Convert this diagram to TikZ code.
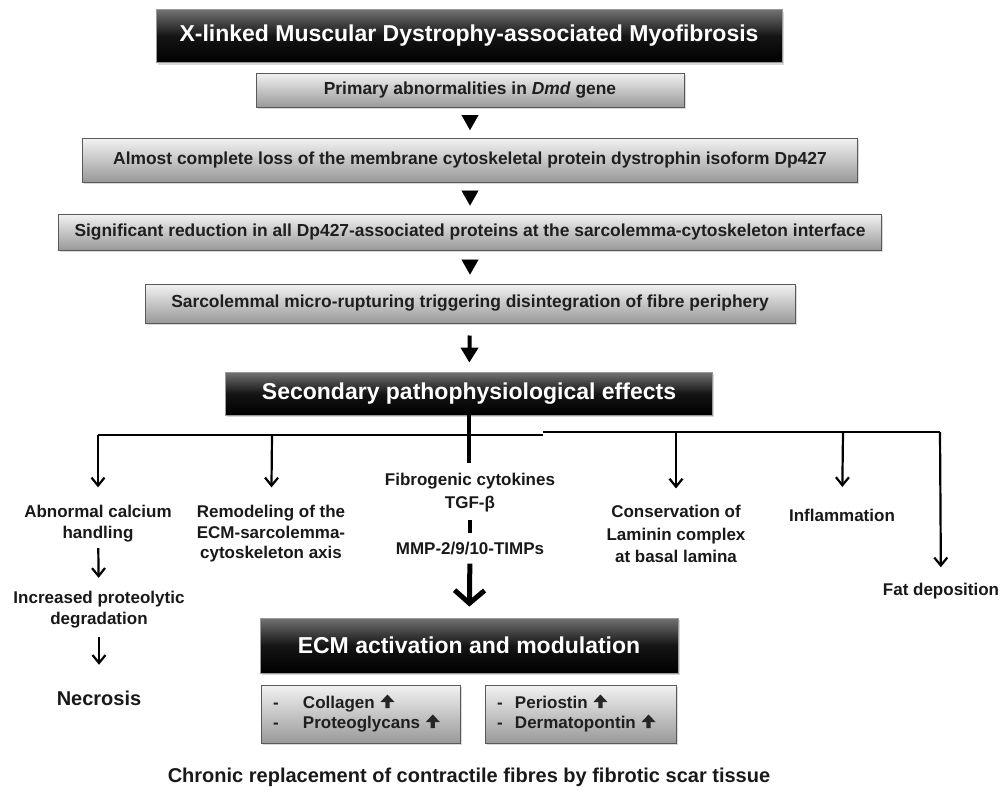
\documentclass[tikz,border=0pt]{standalone}
\usepackage{fontspec}
\setmainfont{Liberation Sans}
\usetikzlibrary{arrows.meta,shadows}
\newcommand\upic{\tikz[x=1pt,y=1pt,baseline=0pt]{\fill[black!85] (-2.1,0) rectangle (2.1,7) (-7,6) -- (0,13.5) -- (7,6) -- cycle;}}
\begin{document}
\begin{tikzpicture}[x=1pt,y=-1pt,
  graybox/.style={draw=black!65, line width=1pt, top color=black!5, bottom color=black!40,
    text=black!88, font=\bfseries\fontsize{17.4}{20}\selectfont, inner sep=0pt,
    drop shadow={opacity=0.3, shadow xshift=1.5pt, shadow yshift=-2pt}},
  blackbox/.style={draw=black!40, line width=0.8pt, top color=black!55, bottom color=black, middle color=black!92,
    text=white, font=\bfseries\fontsize{23}{26}\selectfont, inner sep=0pt,
    drop shadow={opacity=0.3, shadow xshift=1.5pt, shadow yshift=-2pt}},
  lbl/.style={font=\bfseries\fontsize{17}{21}\selectfont, align=center, text=black!90, inner sep=0pt},
  tri/.style={line width=0.01pt, -{Triangle[length=15pt,width=17pt]}},
  thickarr/.style={line width=4pt, -{Triangle[length=15pt,width=17pt]}},
  thinarr/.style={line width=2.2pt, -{Straight Barb[length=8pt,width=13pt]}},
  bus/.style={line width=2.4pt},
  bigarr/.style={line width=5pt, -{Straight Barb[length=13pt,width=30pt]}}
]
\fill[white] (0,0) rectangle (1006,790);
\useasboundingbox (0,0) rectangle (1006,790);

\node[blackbox, minimum width=626pt, minimum height=53pt] (title) at (469,36) {X-linked Muscular Dystrophy-associated Myofibrosis};
\node[graybox, minimum width=428pt, minimum height=34pt] (b1) at (470,90) {Primary abnormalities in \textit{Dmd} gene};
\node[graybox, minimum width=775pt, minimum height=44pt] (b2) at (470,160) {Almost complete loss of the membrane cytoskeletal protein dystrophin isoform Dp427};
\node[graybox, minimum width=823pt, minimum height=36pt] (b3) at (470,232) {Significant reduction in all Dp427-associated proteins at the sarcolemma-cytoskeleton interface};
\node[graybox, minimum width=650pt, minimum height=39pt] (b4) at (470,303.5) {Sarcolemmal micro-rupturing triggering disintegration of fibre periphery};
\node[blackbox, minimum width=487pt, minimum height=43pt] (sec) at (469,393.5) {Secondary pathophysiological effects};

\draw[tri, shorten <=7.5pt, shorten >=7.5pt] (b1) -- (b2);
\draw[tri, shorten <=8pt, shorten >=8pt] (b2) -- (b3);
\draw[tri, shorten <=8.5pt, shorten >=9pt] (b3) -- (b4);
\draw[thickarr, shorten <=12pt, shorten >=9pt] (b4) -- (sec);

\coordinate (cend) at (469,463);
\draw[line width=4.5pt] (sec.south) -- (cend);
\coordinate (busL) at (98,435);
\coordinate (busA) at (272,435);
\coordinate (busM) at (543,435);
\coordinate (busM2) at (543,432);
\coordinate (busC) at (676,432);
\coordinate (busD) at (843,432);
\coordinate (busR) at (940,432);
\draw[bus] (busL) -- (busM);
\draw[bus] (busM2) -- (busR);

\node[lbl] (calc) at (98,524) {Abnormal calcium\\handling};
\node[lbl] (prot) at (99,610) {Increased proteolytic\\degradation};
\node[lbl, font=\bfseries\fontsize{20}{24}\selectfont] (necr) at (99,698) {Necrosis};
\node[lbl, font=\bfseries\fontsize{17}{20.5}\selectfont] (remod) at (271,534) {Remodeling of the\\ECM-sarcolemma-\\cytoskeleton axis};
\node[lbl, font=\bfseries\fontsize{17}{23}\selectfont] (fib) at (470,493) {Fibrogenic cytokines\\TGF-β};
\node[lbl] (mmp) at (470,549) {MMP-2/9/10-TIMPs};
\node[lbl, font=\bfseries\fontsize{17}{22.5}\selectfont] (cons) at (676,534) {Conservation of\\Laminin complex\\at basal lamina};
\node[lbl] (infl) at (842,515) {Inflammation};
\node[lbl] (fat) at (941,591) {Fat deposition};

\draw[thinarr, shorten >=18pt] (busL) -- (calc);
\draw[thinarr, shorten >=18pt] (busA) -- (remod);
\draw[thinarr, shorten >=16.6pt] (busC) -- (cons);
\draw[thinarr, shorten >=21.6pt] (busD) -- (infl);
\draw[thinarr, shorten >=15.6pt] (busR) -- (fat);
\draw[thinarr, shorten <=5.5pt, shorten >=13.5pt] (calc) -- (prot);
\draw[thinarr, shorten <=8.5pt, shorten >=25.7pt] (prot) -- (necr);
\draw[line width=4.5pt, shorten <=7.5pt, shorten >=9pt] (fib) -- (mmp);

\node[blackbox, minimum width=418pt, minimum height=55pt] (ecm) at (469,645.5) {ECM activation and modulation};
\draw[bigarr, shorten <=8pt, shorten >=11pt] (mmp) -- (ecm);

\node[graybox, font=\bfseries\fontsize{17}{20}\selectfont, text width=175pt, inner xsep=12pt, minimum height=58pt, align=left] (col) at (360.5,714)
  {\begin{tabular}{@{}p{30pt}@{}l@{}}-&Collagen \upic\\-&Proteoglycans \upic\end{tabular}};
\node[graybox, font=\bfseries\fontsize{17}{20}\selectfont, text width=167pt, inner xsep=12pt, minimum height=58pt, align=left] (per) at (580.5,714)
  {\begin{tabular}{@{}p{18pt}@{}l@{}}-&Periostin \upic\\-&Dermatopontin \upic\end{tabular}};

\node[lbl, font=\bfseries\fontsize{20}{24}\selectfont] (final) at (469,777) {Chronic replacement of contractile fibres by fibrotic scar tissue};
\end{tikzpicture}
\end{document}
